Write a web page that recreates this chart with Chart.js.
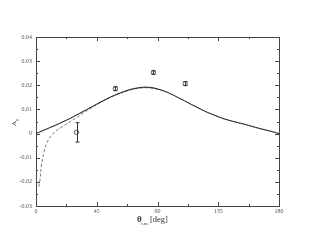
<!DOCTYPE html>
<html>
<head>
<meta charset="utf-8">
<script src="https://cdn.jsdelivr.net/npm/chart.js@4"></script>
<style>
  html, body { margin: 0; padding: 0; background: #fff; }
</style>
</head>
<body>
<canvas id="chart" width="314" height="243"></canvas>
<script>
// angles and analyzing power curves
const theta = [0,5,10,15,20,25,30,35,40,45,50,55,60,65,70,75,80,85,90,95,100,105,110,115,120,125,130,135,140,145,150,155,160,165,170,175,180];
const solidAy = [0,0.0012,0.0024,0.0036,0.0049,0.0062,0.0077,0.0092,0.0107,0.0122,0.0137,0.0151,0.0163,0.0174,0.0183,0.0189,0.0192,0.0191,0.0185,0.0176,0.0164,0.015,0.0136,0.0121,0.0107,0.0093,0.0081,0.007,0.006,0.0052,0.0045,0.0038,0.003,0.0022,0.0015,0.0008,0];
const dottedAy = [0,0.0012,0.0024,0.0036,0.0049,0.0062,0.0076,0.0091,0.0106,0.0121,0.0136,0.015,0.0162,0.0172,0.0181,0.0187,0.019,0.0189,0.0184,0.0175,0.0163,0.0149,0.0135,0.012,0.0106,0.0092,0.008,0.0069,0.0059,0.0051,0.0044,0.0037,0.0029,0.0022,0.0015,0.0008,0];
const dashTheta = [2,3,4,5,6,8,10,12,15,20,25,30,35,40,45,50,55,60,65,70,75,80,85,90];
const dashAy = [-0.022,-0.019,-0.013,-0.010,-0.0075,-0.004,-0.0018,-0.0005,0.0012,0.003,0.0048,0.0066,0.0085,0.0103,0.012,0.0135,0.015,0.0162,0.0172,0.0181,0.0187,0.019,0.0189,0.0184];
// measured points
const dataTheta = [30, 58.8, 87, 110.5];
const dataAy = [0.0005, 0.0186, 0.0253, 0.0207];
const dataErr = [0.004, 0.0008, 0.0007, 0.0008];

const xTicks = [0, 45, 90, 135, 180];
const yTicks = [-0.03, -0.02, -0.01, 0, 0.01, 0.02, 0.03, 0.04];

function pts(xs, ys) {
    return xs.map((x, i) => ({x: x, y: ys[i]}));
}

// frame, inward ticks, error bars and axis titles
const framePlugin = {
    id: 'frame',
    afterDatasetsDraw(chart) {
        const c = chart.ctx;
        const a = chart.chartArea;
        const xs = chart.scales.x;
        const ys = chart.scales.y;
        c.save();
        c.strokeStyle = '#444';
        c.lineWidth = 1;
        c.strokeRect(Math.round(a.left) + 0.5, Math.round(a.top) + 0.5, Math.round(a.right - a.left), Math.round(a.bottom - a.top));

        c.beginPath();
        for (let v = 0; v <= 180; v += 22.5) {
            const px = Math.round(xs.getPixelForValue(v)) + 0.5;
            const len = (v % 45 === 0) ? 4 : 2;
            c.moveTo(px, a.bottom); c.lineTo(px, a.bottom - len);
            c.moveTo(px, a.top); c.lineTo(px, a.top + len);
        }
        for (let k = -6; k <= 8; k++) {
            const v = k * 0.005;
            const py = Math.round(ys.getPixelForValue(v)) + 0.5;
            const len = (k % 2 === 0) ? 4 : 2;
            c.moveTo(a.left, py); c.lineTo(a.left + len, py);
            c.moveTo(a.right, py); c.lineTo(a.right - len, py);
        }
        c.stroke();

        // error bars
        c.strokeStyle = '#333';
        c.beginPath();
        dataTheta.forEach((t, i) => {
            const px = Math.round(xs.getPixelForValue(t)) + 0.5;
            const y1 = ys.getPixelForValue(dataAy[i] + dataErr[i]);
            const y2 = ys.getPixelForValue(dataAy[i] - dataErr[i]);
            c.moveTo(px, y1); c.lineTo(px, y2);
            c.moveTo(px - 2, y1); c.lineTo(px + 2, y1);
            c.moveTo(px - 2, y2); c.lineTo(px + 2, y2);
        });
        c.stroke();

        // axis titles
        c.fillStyle = '#333';
        c.font = 'bold 9px "Liberation Serif"';
        c.textBaseline = 'alphabetic';
        c.fillText('\u03b8', 137, 222);
        c.font = '4.5px "Liberation Serif"';
        c.fillText('c.m.', 141, 225);
        c.font = '8.5px "Liberation Serif"';
        c.fillText('[deg]', 150, 222);

        c.translate(16, 126);
        c.rotate(-Math.PI / 2);
        c.font = '7px "Liberation Serif"';
        c.fillText('A', 0, 0);
        c.font = '4.5px "Liberation Serif"';
        c.fillText('y', 5, 2);
        c.restore();
    }
};

new Chart(document.getElementById('chart'), {
    type: 'scatter',
    data: {
        datasets: [
            {
                type: 'line',
                data: pts(theta, solidAy),
                borderColor: '#222',
                borderWidth: 1,
                pointRadius: 0,
                tension: 0.4
            },
            {
                type: 'line',
                data: pts(theta, dottedAy),
                borderColor: '#666',
                borderWidth: 1,
                borderDash: [1, 1],
                pointRadius: 0,
                tension: 0.4
            },
            {
                type: 'line',
                data: pts(dashTheta, dashAy),
                borderColor: '#777',
                borderWidth: 1,
                borderDash: [3, 2],
                pointRadius: 0,
                tension: 0.4
            },
            {
                data: pts(dataTheta, dataAy),
                pointStyle: 'circle',
                pointRadius: 2.2,
                pointBorderColor: '#333',
                pointBorderWidth: 0.8,
                pointBackgroundColor: 'rgba(0,0,0,0)'
            }
        ]
    },
    options: {
        responsive: false,
        animation: false,
        devicePixelRatio: 1,
        layout: { padding: { left: 0, top: 37, right: 35, bottom: 0 } },
        plugins: {
            legend: { display: false },
            tooltip: { enabled: false }
        },
        scales: {
            x: {
                type: 'linear',
                min: 0,
                max: 180,
                grid: { display: false, drawTicks: false },
                border: { display: false },
                afterBuildTicks: (s) => { s.ticks = xTicks.map(v => ({value: v})); },
                afterFit: (s) => { s.height = 37; },
                ticks: {
                    padding: 2,
                    autoSkip: false,
                    maxRotation: 0,
                    color: '#555',
                    font: { family: 'Liberation Serif', size: 6 }
                }
            },
            y: {
                min: -0.03,
                max: 0.04,
                grid: { display: false, drawTicks: false },
                border: { display: false },
                afterBuildTicks: (s) => { s.ticks = yTicks.map(v => ({value: v})); },
                afterFit: (s) => { s.width = 36; },
                ticks: {
                    padding: 4,
                    autoSkip: false,
                    color: '#555',
                    font: { family: 'Liberation Serif', size: 6 },
                    callback: (v) => v === 0 ? '0' : String(Math.round(v * 100) / 100)
                }
            }
        }
    },
    plugins: [framePlugin]
});
</script>
</body>
</html>
